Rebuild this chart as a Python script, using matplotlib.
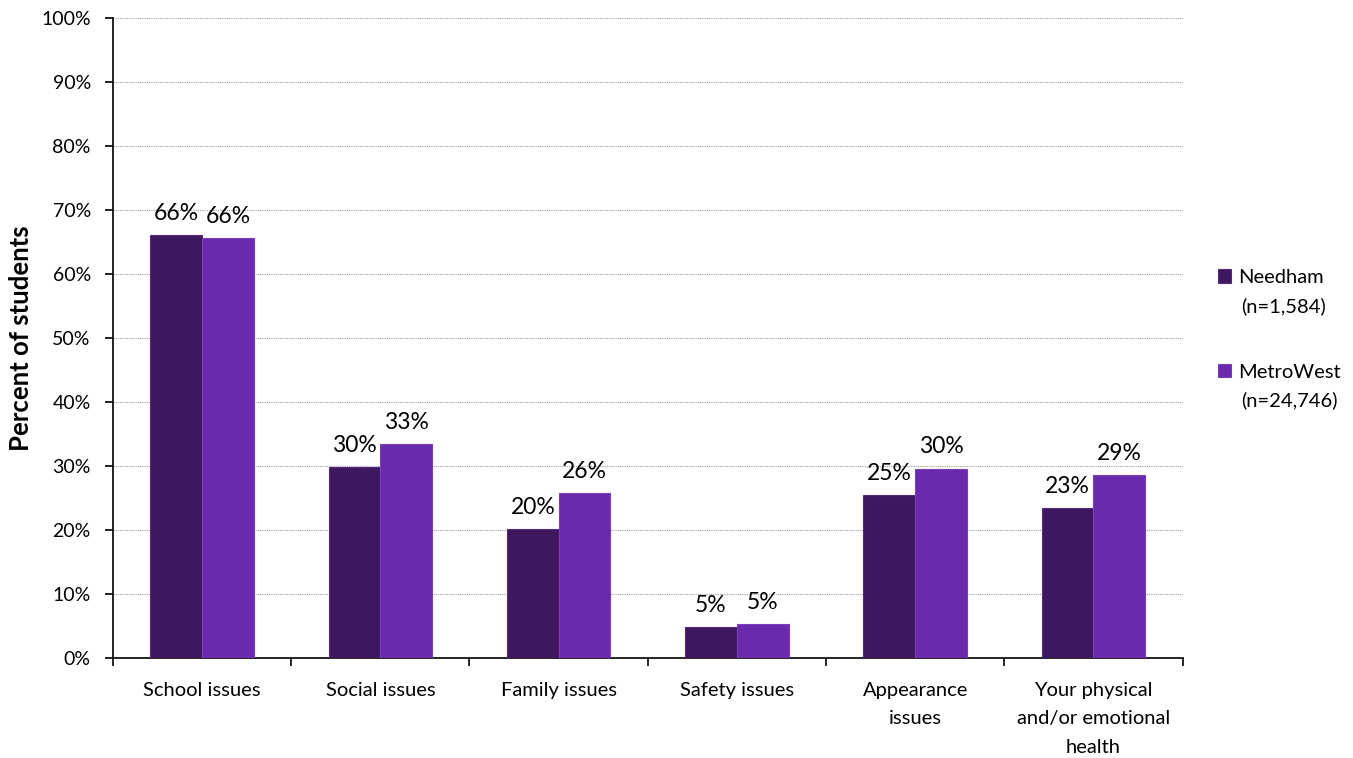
import numpy as np
import matplotlib
matplotlib.use("Agg")
import matplotlib.pyplot as plt

# Data
categories = ["School issues", "Social issues", "Family issues", "Safety issues",
              "Appearance\nissues", "Your physical\nand/or emotional\nhealth"]
needham = [66.1, 29.9, 20.1, 4.8, 25.5, 23.4]
metrowest = [65.6, 33.4, 25.8, 5.3, 29.6, 28.6]
needham_labels = ["66%", "30%", "20%", "5%", "25%", "23%"]
metrowest_labels = ["66%", "33%", "26%", "5%", "30%", "29%"]
series_names = ["Needham", "MetroWest"]
series_sizes = ["(n=1,584)", "(n=24,746)"]
yticks = np.arange(0, 101, 10)

plt.rcParams['font.family'] = ['Lato', 'DejaVu Sans']

fig = plt.figure(figsize=(13.53, 7.58), dpi=100)
ax = fig.add_axes([0.0835, 0.132, 0.7905, 0.844])

x = np.arange(len(categories))
w = 0.29
b1 = ax.bar(x - w / 2, needham, w, color="#3e185f", edgecolor="#55297f",
            linewidth=0.8, label=series_names[0], zorder=3)
b2 = ax.bar(x + w / 2, metrowest, w, color="#6b2aad", edgecolor="#7a3dbb",
            linewidth=0.8, label=series_names[1], zorder=3)

for rect, lab in zip(b1, needham_labels):
    ax.annotate(lab, (rect.get_x() + rect.get_width() / 2, rect.get_height()),
                xytext=(0, 8), textcoords="offset points", ha="center",
                va="bottom", fontsize=16.5)
for rect, lab in zip(b2, metrowest_labels):
    ax.annotate(lab, (rect.get_x() + rect.get_width() / 2, rect.get_height()),
                xytext=(0, 8), textcoords="offset points", ha="center",
                va="bottom", fontsize=16.5)

ax.set_xlim(-0.5, len(categories) - 0.5)
ax.set_ylim(0, 100)
ax.set_yticks(yticks)
ax.set_yticklabels([f"{v}%" for v in yticks], fontsize=14)
ax.yaxis.grid(True, linestyle=(0, (1, 1)), color="#a0a0a0", linewidth=0.8, zorder=0)

# category boundaries get ticks, labels sit in the middle
ax.set_xticks(np.arange(len(categories) + 1) - 0.5)
ax.set_xticklabels([])
ax.set_xticks(x, minor=True)
ax.set_xticklabels(categories, minor=True, fontsize=14.5, linespacing=1.85)
ax.tick_params(axis="x", which="minor", length=0, pad=17)
ax.tick_params(axis="x", which="major", length=6, width=1.2, direction="out")
ax.tick_params(axis="y", length=6, width=1.2, direction="out", pad=10)

for s in ["top", "right"]:
    ax.spines[s].set_visible(False)
ax.spines["left"].set_linewidth(1.2)
ax.spines["bottom"].set_linewidth(1.2)

ax.set_ylabel("Percent of students", fontsize=18.5, fontweight="bold", labelpad=6)

leg = fig.legend(handles=[b1, b2], loc="upper left", bbox_to_anchor=(0.887, 0.669),
                 frameon=False, fontsize=14.5, handlelength=0.65, handleheight=0.65,
                 handletextpad=0.35, labelspacing=3.85)

# sample sizes go on a second line under each legend name
fig.canvas.draw()
W, H = fig.canvas.get_width_height()
for t, n in zip(leg.get_texts(), series_sizes):
    bb = t.get_window_extent()
    fig.text((bb.x0 + 3) / W, (bb.y0 - 11) / H, n, ha="left", va="top", fontsize=14.5)

fig.savefig("out.png", dpi=100)
